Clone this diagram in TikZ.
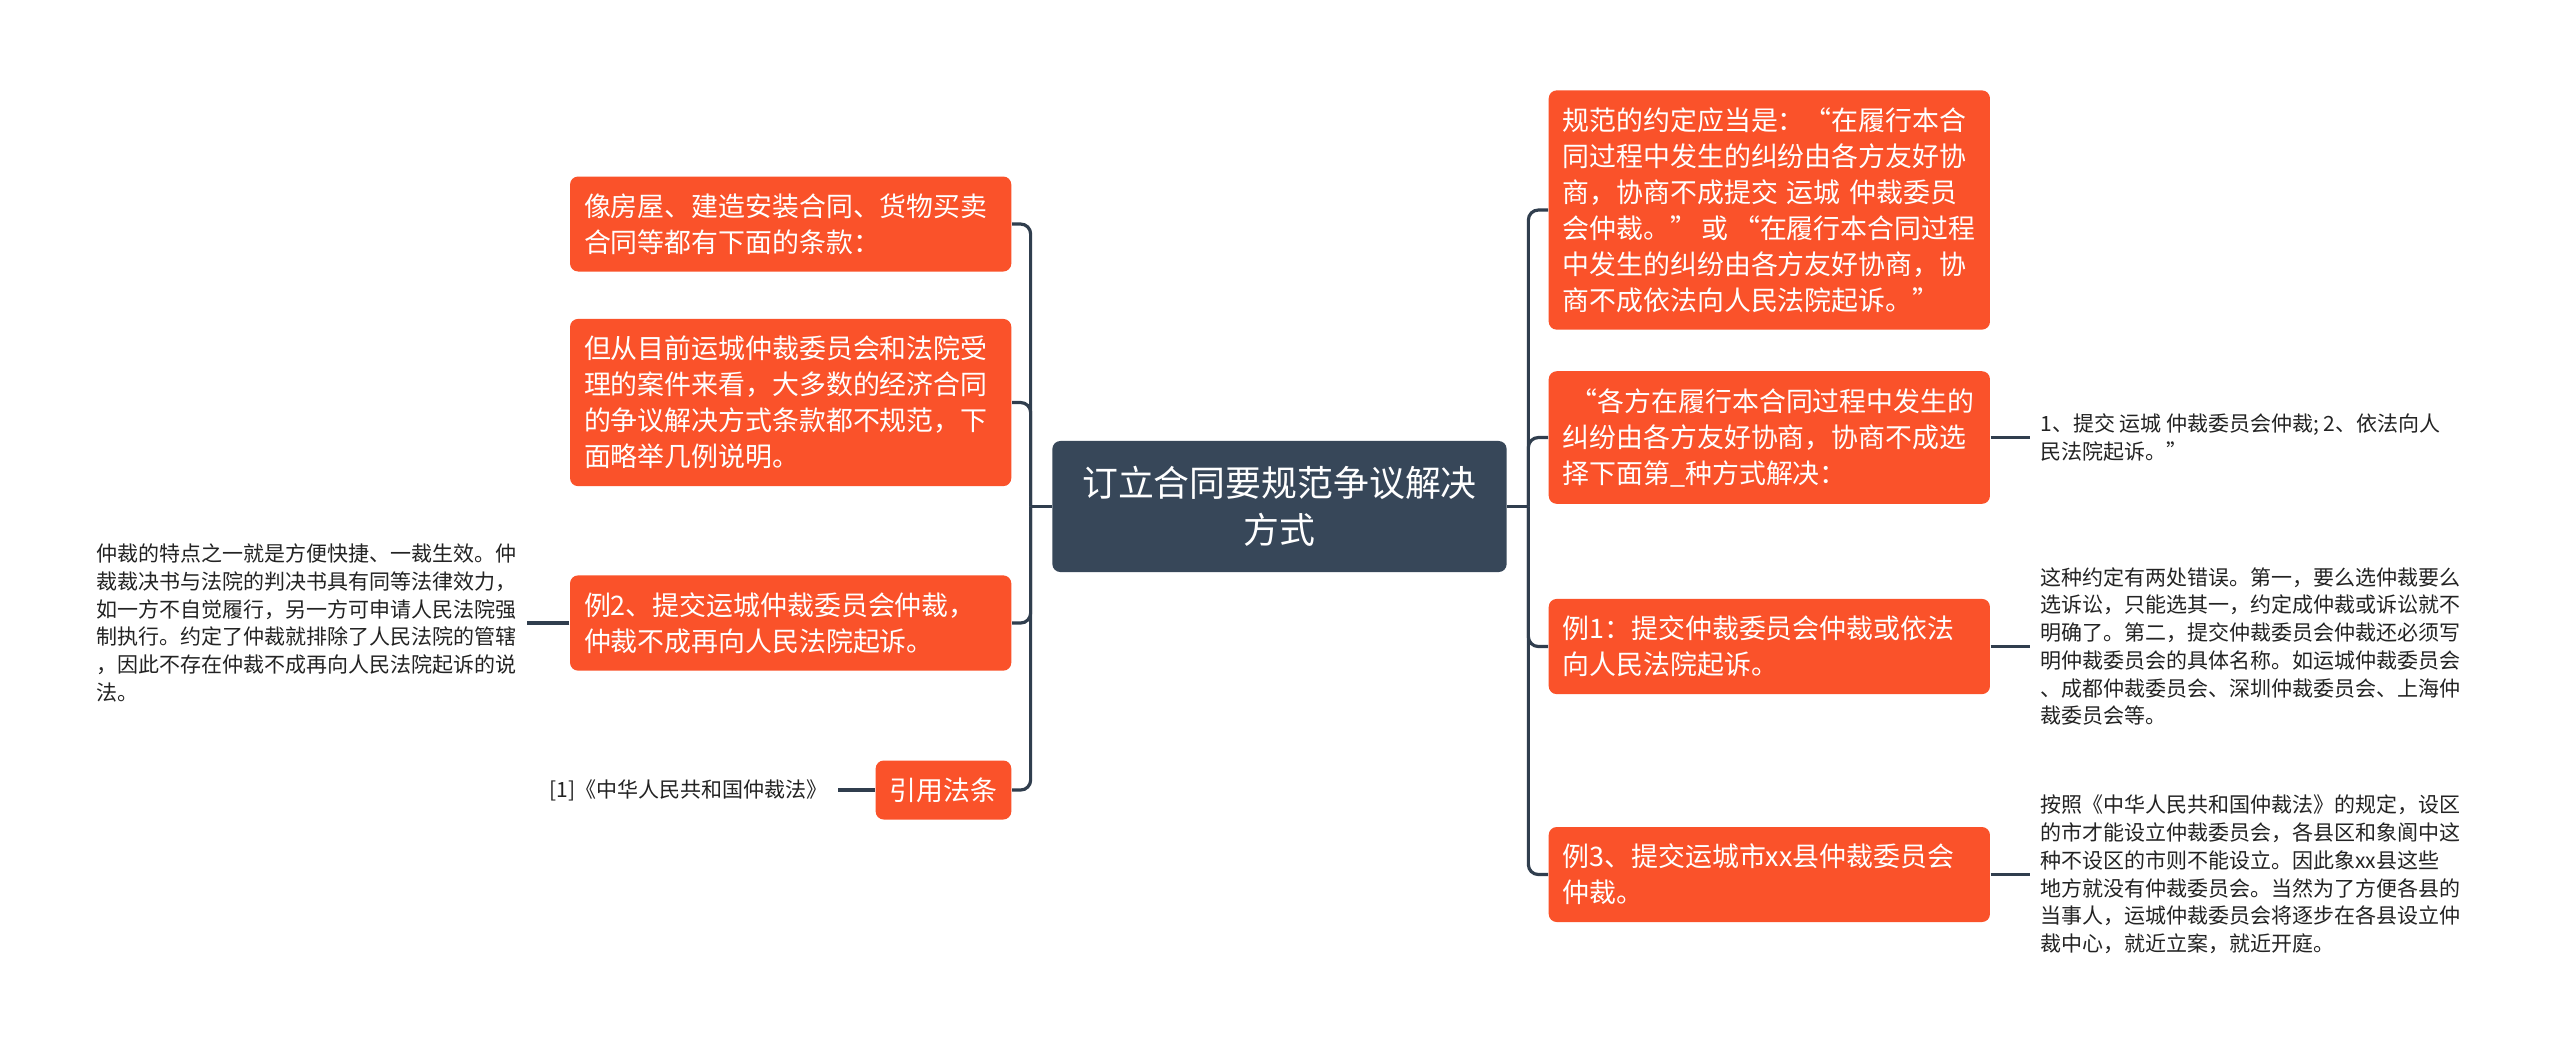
\documentclass[tikz,border=0pt]{standalone}
\usepackage{fontspec}
\setmainfont{Noto Sans CJK SC}
\usepackage{tikz}
\definecolor{topicred}{RGB}{250,82,42}
\definecolor{rootblue}{RGB}{55,71,89}
\definecolor{linkgray}{RGB}{48,62,78}
\definecolor{notegray}{RGB}{35,35,35}

\begin{document}
\begin{tikzpicture}[x=0.01cm, y=-0.01cm,
        rootbox/.style={fill=rootblue, rounded corners=0.08cm, text=white, align=center,
            minimum width=4.54cm, minimum height=1.31cm, font=\fontsize{10.2pt}{13.4pt}\selectfont},
        topic/.style={fill=topicred, rounded corners=0.08cm, text=white, align=left,
            inner xsep=0.14cm, inner ysep=0.17cm, font=\fontsize{7.65pt}{10.24pt}\selectfont},
        wide/.style={text width=4.13cm},
        note/.style={align=left, text=notegray, inner xsep=0.1cm, inner ysep=0pt,
            font=\fontsize{5.97pt}{7.9pt}\selectfont},
        link/.style={draw=linkgray, line width=0.9pt, rounded corners=0.1cm}]
        \useasboundingbox[fill=white] (0,0) rectangle (2560,1056);
        % the central topic
        \node[rootbox] (root) at (1279.5,506.5) {订立合同要规范争议解决\\方式};
        % left branch
        \node[topic, wide, anchor=east] (l1) at (1012,224) {像房屋、建造安装合同、货物买卖\\合同等都有下面的条款：};
        \node[topic, wide, anchor=east] (l2) at (1012,402.5) {但从目前运城仲裁委员会和法院受\\理的案件来看，大多数的经济合同\\的争议解决方式条款都不规范，下\\面略举几例说明。};
        \node[topic, wide, anchor=east] (l3) at (1012,623) {例2、提交运城仲裁委员会仲裁，\\仲裁不成再向人民法院起诉。};
        \node[topic, anchor=east] (l4) at (1012,790) {引用法条};
        % right branch
        \node[topic, wide, anchor=west] (r1) at (1548,210) {规范的约定应当是：“在履行本合\\同过程中发生的纠纷由各方友好协\\商，协商不成提交~运城~仲裁委员\\会仲裁。”\,或\,“在履行本合同过程\\中发生的纠纷由各方友好协商，协\\商不成依法向人民法院起诉。”};
        \node[topic, wide, anchor=west] (r2) at (1548,437.5) {\hspace{0.3em}“各方在履行本合同过程中发生的\\纠纷由各方友好协商，协商不成选\\择下面第\_种方式解决：};
        \node[topic, wide, anchor=west] (r3) at (1548,646.5) {例1：提交仲裁委员会仲裁或依法\\向人民法院起诉。};
        \node[topic, wide, anchor=west] (r4) at (1548,874.5) {例3、提交运城市xx县仲裁委员会\\仲裁。};
        % notes
        \node[note, anchor=east] (n3) at ([xshift=-0.42cm]l3.west) {仲裁的特点之一就是方便快捷、一裁生效。仲\\裁裁决书与法院的判决书具有同等法律效力，\\如一方不自觉履行，另一方可申请人民法院强\\制执行。约定了仲裁就排除了人民法院的管辖\\，因此不存在仲裁不成再向人民法院起诉的说\\法。};
        \node[note, anchor=east] (n4) at ([xshift=-0.37cm]l4.west) {[1]《中华人民共和国仲裁法》};
        \node[note, anchor=west] (m2) at ([xshift=0.39cm]r2.east) {1、提交 运城 仲裁委员会仲裁; 2、依法向人\\民法院起诉。”};
        \node[note, anchor=west] (m3) at ([xshift=0.39cm]r3.east) {这种约定有两处错误。第一，要么选仲裁要么\\选诉讼，只能选其一，约定成仲裁或诉讼就不\\明确了。第二，提交仲裁委员会仲裁还必须写\\明仲裁委员会的具体名称。如运城仲裁委员会\\、成都仲裁委员会、深圳仲裁委员会、上海仲\\裁委员会等。};
        \node[note, anchor=west] (m4) at ([xshift=0.39cm]r4.east) {按照《中华人民共和国仲裁法》的规定，设区\\的市才能设立仲裁委员会，各县区和象阆中这\\种不设区的市则不能设立。因此象xx县这些\\地方就没有仲裁委员会。当然为了方便各县的\\当事人，运城仲裁委员会将逐步在各县设立仲\\裁中心，就近立案，就近开庭。};
        % the connectors
        \coordinate (lj) at ([xshift=-0.21cm]root.west);
        \coordinate (rj) at ([xshift=0.21cm]root.east);
        \draw[link] (root.west) -- (lj);
        \draw[link] (root.east) -- (rj);
        \foreach \n in {l1,l2,l3,l4}
            \draw[link] (lj) |- (\n.east);
        \foreach \n in {r1,r2,r3,r4}
            \draw[link] (rj) |- (\n.west);
        \draw[link] (l3.west) -- (n3.east);
        \draw[link] (l4.west) -- (n4.east);
        \foreach \a/\b in {r2/m2, r3/m3, r4/m4}
            \draw[link] (\a.east) -- (\b.west |- \a.east);
    \end{tikzpicture}
\end{document}
